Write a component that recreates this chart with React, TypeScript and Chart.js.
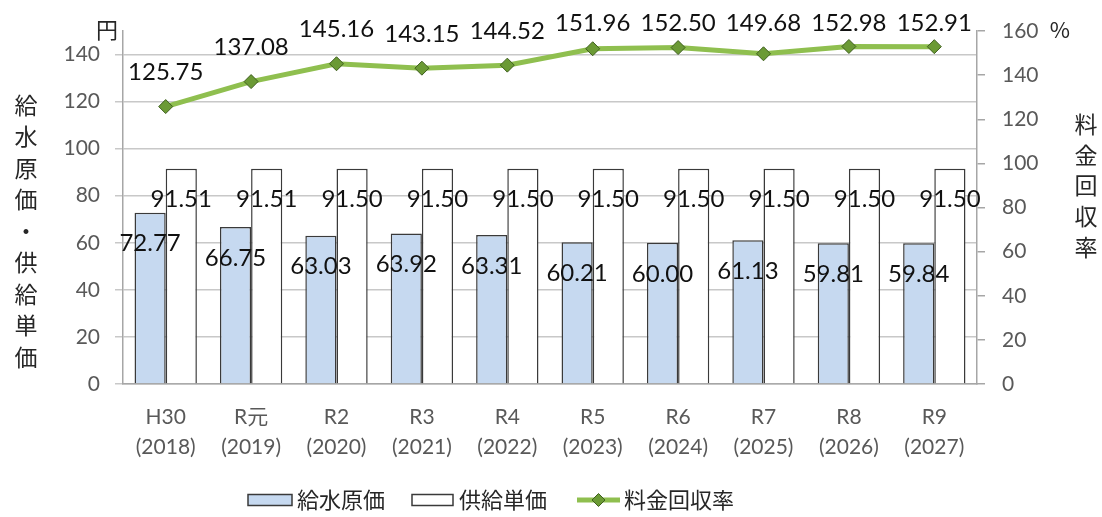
import React, { useEffect, useRef } from "react";
import { Chart, registerables } from "chart.js";

Chart.register(...registerables);

// Fiscal-year categories (era name + western year)
const eraLabels = ["H30", "R元", "R2", "R3", "R4", "R5", "R6", "R7", "R8", "R9"];
const yearLabels = ["(2018)", "(2019)", "(2020)", "(2021)", "(2022)", "(2023)", "(2024)", "(2025)", "(2026)", "(2027)"];

// 給水原価 (円)
const waterCost = [72.77, 66.75, 63.03, 63.92, 63.31, 60.21, 60.0, 61.13, 59.81, 59.84];
// 供給単価 (円)
const supplyPrice = [91.51, 91.51, 91.5, 91.5, 91.5, 91.5, 91.5, 91.5, 91.5, 91.5];
// 料金回収率 (%)
const recoveryRate = [125.75, 137.08, 145.16, 143.15, 144.52, 151.96, 152.5, 149.68, 152.98, 152.91];

const costTicks = [0, 20, 40, 60, 80, 100, 120, 140];
const rateTicks = [0, 20, 40, 60, 80, 100, 120, 140, 160];

const leftTitle = ["給", "水", "原", "価", "・", "供", "給", "単", "価"];
const rightTitle = ["料", "金", "回", "収", "率"];
const seriesNames = ["給水原価", "供給単価", "料金回収率"];

const NUM_FONT = 'Lato, "Noto Sans CJK JP", sans-serif';
const JP_FONT = '"Noto Sans CJK JP", sans-serif';

const BLUE = "#c6d9f0";
const BAR_EDGE = "#3a3a3a";
const GREEN = "#8fbf4f";
const DIAMOND = "#6b9a35";
const DIAMOND_EDGE = "#3f5f1f";
const AXIS_GRAY = "#a6a6a6";
const GRID_GRAY = "#c8c8c8";
const TICK_TEXT = "#595959";
const TEXT = "#262626";

function drawDiamond(ctx: CanvasRenderingContext2D, x: number, y: number, r: number) {
  ctx.beginPath();
  ctx.moveTo(x, y - r);
  ctx.lineTo(x + r, y);
  ctx.lineTo(x, y + r);
  ctx.lineTo(x - r, y);
  ctx.closePath();
  ctx.fillStyle = DIAMOND;
  ctx.fill();
  ctx.lineWidth = 1;
  ctx.strokeStyle = DIAMOND_EDGE;
  ctx.stroke();
}

const annotations = {
  id: "annotations",
  afterDatasetsDraw(chart: any) {
    const ctx: CanvasRenderingContext2D = chart.ctx;
    ctx.save();

    // value labels on the bars
    ctx.font = `24px ${NUM_FONT}`;
    ctx.fillStyle = "#111";
    ctx.textAlign = "center";
    ctx.textBaseline = "middle";
    [0, 1].forEach((di) => {
      const meta = chart.getDatasetMeta(di);
      const values = chart.data.datasets[di].data as number[];
      meta.data.forEach((bar: any, i: number) => {
        ctx.fillText(values[i].toFixed(2), bar.x, bar.y + 31);
      });
    });

    // value labels above the recovery-rate points
    const lineMeta = chart.getDatasetMeta(2);
    const rates = chart.data.datasets[2].data as number[];
    lineMeta.data.forEach((pt: any, i: number) => {
      ctx.fillText(rates[i].toFixed(2), pt.x, Math.max(pt.y - 34, 23));
    });

    // unit marks
    ctx.fillStyle = TEXT;
    ctx.font = `22px ${JP_FONT}`;
    ctx.fillText("円", 107, 30);
    ctx.fillText("%", 1060, 30);

    // vertical axis titles
    ctx.font = `23px ${JP_FONT}`;
    leftTitle.forEach((ch, i) => ctx.fillText(ch, 26, 105 + i * 31.5));
    rightTitle.forEach((ch, i) => ctx.fillText(ch, 1086, 124 + i * 30.8));

    // legend
    const ly = 500;
    ctx.lineWidth = 1.5;
    ctx.strokeStyle = BAR_EDGE;
    ctx.fillStyle = BLUE;
    ctx.fillRect(248, ly - 5.5, 44, 11);
    ctx.strokeRect(248, ly - 5.5, 44, 11);
    ctx.fillStyle = "#ffffff";
    ctx.fillRect(412, ly - 5.5, 41, 11);
    ctx.strokeRect(412, ly - 5.5, 41, 11);

    ctx.beginPath();
    ctx.moveTo(577, ly);
    ctx.lineTo(620, ly);
    ctx.lineWidth = 5;
    ctx.strokeStyle = GREEN;
    ctx.stroke();
    drawDiamond(ctx, 598.5, ly, 6.5);

    ctx.fillStyle = TEXT;
    ctx.font = `22px ${JP_FONT}`;
    ctx.textAlign = "left";
    ctx.fillText(seriesNames[0], 297, ly);
    ctx.fillText(seriesNames[1], 459, ly);
    ctx.fillText(seriesNames[2], 624, ly);

    ctx.restore();
  },
};

export default function App() {
  const canvasRef = useRef<HTMLCanvasElement | null>(null);

  useEffect(() => {
    if (!canvasRef.current) return;
    const labels = eraLabels.map((era, i) => [era, yearLabels[i]]);
    const chart = new Chart(canvasRef.current, {
      type: "bar",
      data: {
        labels,
        datasets: [
          {
            type: "bar",
            label: seriesNames[0],
            data: waterCost,
            backgroundColor: BLUE,
            borderColor: BAR_EDGE,
            borderWidth: 1.5,
            yAxisID: "y",
            order: 2,
            categoryPercentage: 0.73,
            barPercentage: 1,
          },
          {
            type: "bar",
            label: seriesNames[1],
            data: supplyPrice,
            backgroundColor: "#ffffff",
            borderColor: BAR_EDGE,
            borderWidth: 1.5,
            yAxisID: "y",
            order: 2,
            categoryPercentage: 0.73,
            barPercentage: 1,
          },
          {
            type: "line",
            label: seriesNames[2],
            data: recoveryRate,
            borderColor: GREEN,
            borderWidth: 5,
            pointStyle: "rectRot",
            pointRadius: 7,
            pointBackgroundColor: DIAMOND,
            pointBorderColor: DIAMOND_EDGE,
            pointBorderWidth: 1,
            tension: 0,
            yAxisID: "y2",
            order: 1,
          },
        ],
      } as any,
      options: {
        responsive: false,
        animation: false,
        layout: { padding: { top: 31, left: 0, right: 0, bottom: 0 } },
        plugins: {
          legend: { display: false },
          tooltip: { enabled: false },
        },
        scales: {
          x: {
            grid: { display: true, drawOnChartArea: false, drawTicks: false },
            border: { display: true, color: AXIS_GRAY, width: 1.5 },
            ticks: {
              autoSkip: false,
              maxRotation: 0,
              minRotation: 0,
              padding: 19,
              color: TICK_TEXT,
              font: { family: NUM_FONT, size: 21, lineHeight: 1.4 },
            },
            afterFit(scale: any) {
              scale.height = 133;
            },
          },
          y: {
            position: "left",
            min: 0,
            max: 150,
            afterBuildTicks(scale: any) {
              scale.ticks = costTicks.map((v) => ({ value: v }));
            },
            grid: {
              color: GRID_GRAY,
              lineWidth: 1.5,
              drawTicks: true,
              tickLength: 8,
              tickColor: GRID_GRAY,
            },
            border: { display: true, color: AXIS_GRAY, width: 1.5 },
            ticks: {
              padding: 15,
              color: TICK_TEXT,
              font: { family: NUM_FONT, size: 21 },
            },
            afterFit(scale: any) {
              scale.width = 123;
            },
          },
          y2: {
            position: "right",
            min: 0,
            max: 160,
            afterBuildTicks(scale: any) {
              scale.ticks = rateTicks.map((v) => ({ value: v }));
            },
            grid: {
              drawOnChartArea: false,
              drawTicks: true,
              tickLength: 8,
              tickColor: AXIS_GRAY,
              lineWidth: 1.5,
            },
            border: { display: true, color: AXIS_GRAY, width: 1.5 },
            ticks: {
              padding: 17,
              color: TICK_TEXT,
              font: { family: NUM_FONT, size: 21 },
            },
            afterFit(scale: any) {
              scale.width = 125;
            },
          },
        },
      } as any,
      plugins: [annotations],
    });
    return () => chart.destroy();
  }, []);

  return (
    <canvas
      ref={canvasRef}
      width={1102}
      height={517}
      style={{ position: "absolute", left: 0, top: 0, width: 1102, height: 517 }}
    />
  );
}
